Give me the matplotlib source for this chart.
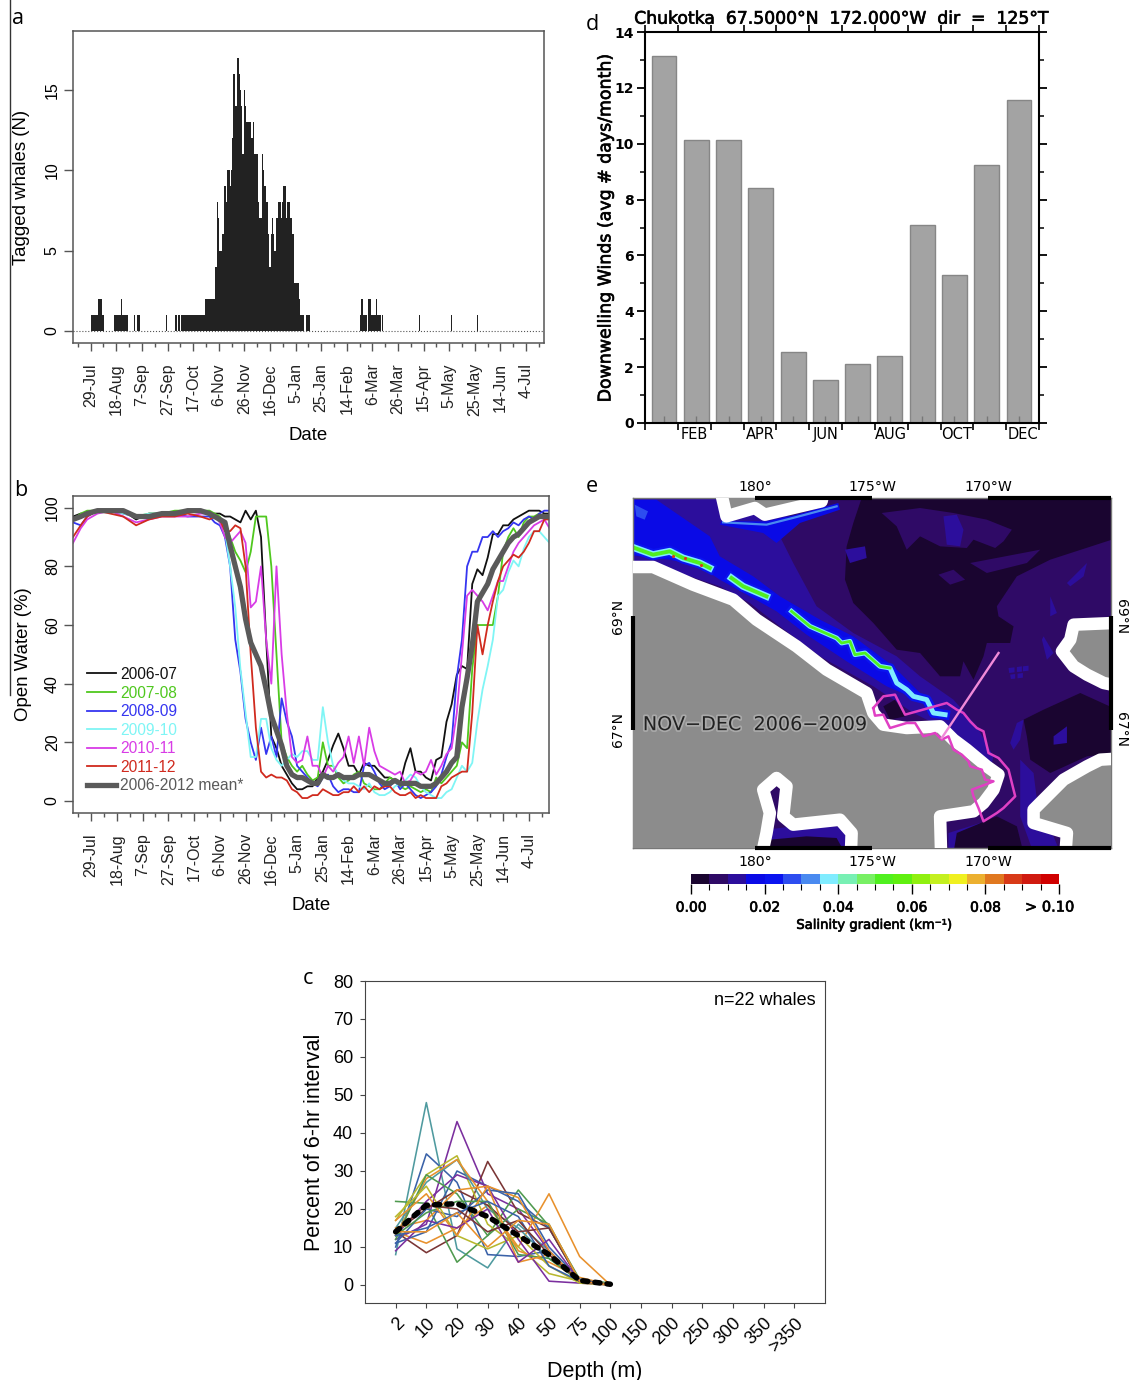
import numpy as np
import matplotlib
matplotlib.use('Agg')
import matplotlib.pyplot as plt
import matplotlib.patheffects as pe
from matplotlib.colors import ListedColormap
from matplotlib.lines import Line2D
from matplotlib.patches import Polygon

plt.rcParams['font.family'] = ['Liberation Sans', 'DejaVu Sans']

W, H = 1130, 1380

date_ticks = np.arange(0, 360, 20)
date_labels = ['29-Jul', '18-Aug', '7-Sep', '27-Sep', '17-Oct', '6-Nov', '26-Nov', '16-Dec', '5-Jan',
               '25-Jan', '14-Feb', '6-Mar', '26-Mar', '15-Apr', '5-May', '25-May', '14-Jun', '4-Jul']

# panel a, whales per day, starting at 29-Jul
whales = [0, 1, 1, 1, 1, 1, 2, 2, 2, 1, 1, 0, 0, 0, 0, 0, 0, 0, 0, 1, 1, 1, 1, 1, 2, 1, 1, 1, 1, 1,
          0, 0, 0, 0, 1, 0, 0, 1, 1, 0, 0, 0, 0, 0, 0, 0, 0, 0, 0, 0, 0, 0, 0, 0, 0, 0, 0, 0, 0, 1,
          0, 0, 0, 0, 0, 0, 1, 1, 0, 1, 0, 1, 1, 1, 1, 1, 1, 1, 1, 1, 1, 1, 1, 1, 1, 1, 1, 1, 1, 1,
          2, 2, 2, 2, 2, 2, 2, 2, 4, 8, 7, 5, 5, 6, 6, 9, 8, 10, 10, 9, 10, 12, 16, 14, 14, 17, 16, 15, 14, 11,
          15, 14, 13, 13, 13, 13, 12, 13, 11, 11, 11, 8, 7, 7, 11, 10, 9, 8, 8, 6, 4, 6, 7, 6, 5, 7, 7, 8, 8, 7,
          8, 9, 9, 7, 8, 8, 7, 7, 6, 3, 3, 3, 3, 2, 1, 1, 1, 0, 0, 1, 1, 1, 0, 0, 0, 0, 0, 0, 0, 0,
          0, 0, 0, 0, 0, 0, 0, 0, 0, 0, 0, 0, 0, 0, 0, 0, 0, 0, 0, 0, 0, 0, 0, 0, 0, 0, 0, 0, 0, 0,
          0, 1, 2, 1, 1, 1, 0, 2, 2, 1, 1, 1, 1, 2, 1, 1, 1, 0, 1, 0, 0, 0, 0, 0, 0, 0, 0, 0, 0, 0,
          0, 0, 0, 0, 0, 0, 0, 0, 0, 0, 0, 0, 0, 0, 0, 0, 0, 1, 0, 0, 0, 0, 0, 0, 0, 0, 0, 0, 0, 0,
          0, 0, 0, 0, 0, 0, 0, 0, 0, 0, 0, 0, 1, 0, 0, 0, 0, 0, 0, 0, 0, 0, 0, 0, 0, 0, 0, 0, 0, 0,
          0, 0, 1, 0]

# panel b, open water per cent
water_days = [-14, -8, -3, 5, 15, 25, 35, 45, 55, 65, 75, 85] + list(range(92, 357, 4))
water_0607 = [97, 98, 98, 99, 99, 99, 96, 98, 98, 98, 99, 99,
              98, 98, 98, 97, 97, 96, 95, 99, 96, 99, 90, 55, 22, 18, 12, 9, 6, 4, 4, 5, 5, 8, 10, 14, 19, 23, 18,
              12, 12, 9, 13, 12, 12, 10, 8, 8, 7, 6, 13, 18, 10, 10, 8, 7, 14, 15, 27, 33, 43, 46, 45, 74, 79, 77,
              83, 91, 91, 94, 94, 96, 97, 98, 99, 99, 99, 98, 98]
water_0708 = [96, 98, 99, 99, 99, 99, 97, 98, 98, 99, 99, 99,
              99, 98, 97, 94, 90, 85, 82, 78, 85, 97, 97, 97, 80, 50, 20, 15, 12, 10, 12, 9, 7, 8, 20, 12, 12, 8, 6,
              7, 9, 10, 6, 5, 4, 4, 6, 8, 7, 5, 4, 5, 4, 3, 4, 3, 8, 6, 8, 10, 12, 20, 18, 45, 60, 60,
              60, 60, 70, 85, 90, 93, 90, 95, 97, 97, 98, 96, 97]
water_0809 = [95, 94, 97, 99, 99, 98, 97, 97, 98, 98, 97, 97,
              97, 95, 94, 90, 80, 55, 44, 28, 20, 14, 25, 16, 22, 15, 35, 27, 22, 12, 10, 8, 6, 5, 8, 9, 5, 3, 4,
              4, 3, 3, 12, 13, 10, 6, 4, 5, 7, 4, 6, 4, 2, 1, 2, 3, 5, 9, 15, 20, 42, 55, 80, 85, 85, 90,
              90, 92, 90, 92, 93, 95, 94, 96, 97, 96, 98, 99, 99]
water_0910 = [96, 97, 98, 99, 99, 98, 97, 98, 98, 98, 99, 99,
              98, 97, 95, 92, 80, 66, 45, 30, 15, 15, 28, 28, 18, 14, 12, 14, 16, 15, 17, 17, 14, 14, 32, 20, 12, 9, 7,
              6, 6, 5, 4, 6, 3, 2, 2, 3, 5, 6, 7, 9, 8, 5, 3, 2, 1, 1, 3, 4, 8, 12, 10, 13, 27, 38,
              46, 55, 70, 72, 78, 82, 80, 86, 90, 92, 92, 90, 88]
water_1011 = [88, 93, 96, 98, 99, 97, 95, 96, 97, 97, 97, 98,
              98, 97, 95, 90, 88, 90, 92, 88, 66, 68, 80, 55, 40, 80, 50, 30, 15, 13, 14, 22, 12, 12, 8, 12, 10, 13, 15,
              22, 13, 22, 12, 25, 17, 12, 11, 10, 9, 10, 6, 7, 10, 9, 10, 14, 9, 12, 16, 18, 30, 50, 70, 72, 70, 68,
              65, 70, 75, 75, 80, 85, 88, 90, 92, 94, 95, 96, 93]
water_1112 = [90, 94, 97, 99, 98, 97, 94, 96, 97, 97, 98, 97,
              96, 97, 96, 92, 92, 94, 93, 80, 50, 25, 10, 8, 9, 8, 8, 7, 4, 3, 1, 1, 2, 2, 4, 3, 2, 2, 3,
              3, 5, 3, 5, 3, 5, 4, 5, 5, 3, 2, 2, 3, 1, 2, 1, 1, 1, 5, 6, 8, 9, 10, 10, 30, 60, 50,
              60, 68, 75, 80, 82, 84, 83, 85, 88, 92, 92, 96, 96]
water_mean = [96, 97, 98, 99, 99, 99, 97, 97, 98, 98, 99, 99,
              98, 97, 96, 95, 87, 80, 73, 62, 54, 50, 46, 38, 29, 24, 19, 12, 9, 8, 8, 7, 6, 6, 9, 8, 8, 9, 8,
              8, 8, 9, 9, 9, 8, 7, 6, 6, 7, 6, 6, 6, 6, 5, 5, 5, 6, 8, 10, 13, 15, 32, 42, 53, 68, 71,
              74, 79, 82, 85, 88, 90, 91, 93, 95, 96, 97, 97, 97]
water_labels = ['2006-07', '2007-08', '2008-09', '2009-10', '2010-11', '2011-12']
water_colors = ['#111111', '#4fc81e', '#3535f0', '#7ff5f5', '#d83ce6', '#d02a1e']

# panel c, percent of interval per depth bin, one list per whale
depth_labels = ['2', '10', '20', '30', '40', '50', '75', '100', '150', '200', '250', '300', '350', '>350']
whale_curves = [[8, 48, 9.5, 4.5, 16, 9, 1, 0], [12, 16, 43, 24, 20, 9, 1, 0], [14, 8.5, 13, 32.5, 19, 15, 1, 0],
                [22, 21.5, 6, 13, 25, 15.5, 1.5, 0.5], [14, 11, 15, 21, 10, 24, 7.5, 0], [10, 34.5, 27, 8, 7.5, 9, 1, 0],
                [17, 29, 34, 16, 10, 3, 1, 0], [11, 14, 30, 26, 22, 15, 1, 0], [13, 22, 29, 26, 12, 1, 0.5, 0],
                [15, 27, 33, 20, 15, 7, 1, 0], [13, 28, 33, 22, 9, 6, 2, 0], [14, 20, 25, 21, 14, 15, 1, 0],
                [12, 29, 24, 13, 20, 16, 1, 0.2], [15, 17, 25, 26, 23, 9, 1, 0], [11, 20, 18, 25, 24, 10, 1.5, 0],
                [18, 26, 13, 9.5, 13, 5, 0.5, 0], [13, 19, 22, 22, 8, 7, 1, 0], [17, 24, 13, 26, 6, 8, 1, 0],
                [9, 17, 15, 20, 6, 12, 1, 0], [13, 15, 19, 22, 18, 5, 1, 0], [14, 21, 20, 14, 17, 8, 1, 0],
                [14, 14, 19, 10, 17, 16, 1, 0]]
curve_colors = ['#4f9a9f', '#7b2f9e', '#7a3535', '#4f9a4f', '#e8912d', '#3a62a8', '#b8b82e', '#3a62a8', '#7b2f9e',
                '#4f9a9f', '#e8912d', '#7a3535', '#4f9a4f', '#e8912d', '#3a62a8', '#b8b82e', '#4f9a4f', '#e8912d',
                '#7b2f9e', '#3a62a8', '#7a3535', '#e8912d']
depth_mean = [14, 21, 21.4, 18, 13, 8, 1.2, 0.2]

# panel d
months = np.arange(1, 13)
wind_days = [13.15, 10.15, 10.15, 8.4, 2.55, 1.55, 2.1, 2.4, 7.1, 5.3, 9.25, 11.55]
month_labels = ['FEB', 'APR', 'JUN', 'AUG', 'OCT', 'DEC']

# panel e, colour scale and map outlines traced on a map grid (x 40-1472, y 55-1105)
grad_levels = np.arange(0, 0.1001, 0.005)
grad_colors = ['#1a0530', '#2f0a66', '#2c0e9c', '#0a0ae6', '#0a14f0', '#2d4df0', '#4a8af0', '#80ecff', '#78f0b4',
               '#78f064', '#50f020', '#60f010', '#90f010', '#c4f020', '#f0f020', '#ecb030', '#e07820', '#d83a18',
               '#d01a10', '#d00000']
land_main = [(-60, 262), (100, 262), (220, 315), (340, 360), (410, 420), (530, 500), (620, 570), (740, 640), (760, 700),
             (790, 735), (860, 745), (960, 740), (1000, 780), (1040, 810), (1100, 860), (1135, 885), (1120, 930),
             (1090, 970), (1060, 995), (960, 1010), (965, 1200), (690, 1200), (695, 1060), (660, 1020), (520, 1035),
             (490, 1010), (500, 920), (470, 895), (430, 930), (450, 1000), (440, 1060), (410, 1200), (-60, 1200)]
land_top = [(295, 0), (320, 110), (405, 85), (435, 105), (605, 65), (620, 0)]
land_right_a = [(1600, 425), (1360, 435), (1350, 480), (1325, 515), (1360, 560), (1400, 585), (1450, 610), (1600, 640)]
land_right_b = [(1600, 830), (1440, 840), (1400, 860), (1330, 900), (1280, 950), (1240, 990), (1240, 1030), (1340, 1060),
                (1330, 1200), (1600, 1200)]
map_dark = [[(730, 40), (1490, 40), (1490, 175), (1290, 240), (1190, 290), (1130, 380), (1135, 410), (1180, 440), (1170, 490),
             (1100, 490), (1090, 530), (1060, 600), (1030, 545), (1020, 590), (960, 590), (900, 520), (830, 510),
             (760, 430), (700, 370), (675, 300), (680, 200), (700, 130)],
            [(1210, 720), (1270, 690), (1380, 640), (1490, 690), (1490, 820), (1400, 830), (1290, 880), (1230, 840), (1220, 770)],
            [(1010, 1060), (1130, 1010), (1190, 1040), (1210, 1120), (1000, 1120)],
            [(450, 1080), (560, 1070), (650, 1075), (675, 1120), (440, 1120)],
            [(790, 680), (825, 660), (855, 710), (810, 720)]]
map_purple = [[(785, 100), (900, 85), (1000, 100), (1100, 120), (1175, 150), (1150, 185), (1125, 205), (1060, 180), (1040, 205),
               (960, 200), (900, 170), (860, 210), (830, 140)],
              [(1050, 250), (1260, 210), (1220, 250), (1100, 280)],
              [(955, 285), (1000, 270), (1035, 300), (990, 315)]]
map_indigo = [[(20, 40), (560, 40), (470, 150), (520, 250), (590, 380), (700, 460), (830, 530), (900, 590), (1000, 660), (1070, 740),
               (1120, 830), (1110, 870), (1060, 830), (980, 750), (880, 700), (760, 620), (600, 530), (480, 440), (390, 370),
               (300, 320), (150, 270), (20, 240)],
              [(1200, 840), (1240, 880), (1250, 960), (1230, 1010), (1300, 1070), (1320, 1120), (1240, 1120), (1200, 1010)],
              [(1270, 470), (1300, 520), (1280, 540), (1265, 480)],
              [(1340, 310), (1400, 250), (1390, 290), (1350, 320)],
              [(1290, 350), (1310, 400), (1290, 410)],
              [(440, 1050), (520, 1040), (680, 1040), (690, 1120), (430, 1120)],
              [(985, 1060), (1080, 1030), (1020, 1120), (985, 1120)]]
map_indigo_top = [[(970, 110), (1010, 105), (1030, 150), (1020, 200), (980, 195), (975, 150)],
                  [(675, 210), (735, 200), (740, 235), (690, 250)],
                  [(1170, 790), (1190, 730), (1210, 720), (1200, 780), (1180, 810)],
                  [(1300, 770), (1340, 740), (1340, 790), (1300, 795)],
                  [(1165, 565), (1183, 563), (1183, 578), (1167, 580)],
                  [(1190, 562), (1205, 560), (1205, 576), (1190, 577)],
                  [(1208, 560), (1225, 558), (1225, 573), (1208, 575)],
                  [(1170, 585), (1185, 583), (1185, 597), (1172, 598)],
                  [(1192, 582), (1208, 580), (1208, 594), (1192, 596)]]
map_blue = [[(20, 60), (110, 60), (270, 170), (300, 230), (400, 290), (480, 350), (600, 420), (700, 470), (820, 560), (900, 640),
             (1000, 720), (960, 690), (800, 620), (680, 545), (560, 465), (470, 395), (390, 350), (300, 300), (240, 260),
             (150, 240), (20, 225)],
            [(305, 125), (440, 125), (530, 105), (655, 70), (660, 90), (540, 130), (470, 190), (430, 160), (300, 135)]]
map_light = [[(45, 75), (85, 95), (75, 120), (50, 110)]]
ridge_top = [(310, 128), (440, 135), (530, 112), (650, 80)]
ridge_a = [(45, 205), (100, 225), (150, 215), (190, 235), (240, 250), (270, 265)]
ridge_b = [(335, 295), (370, 320), (440, 350)]
ridge_c = [(515, 395), (570, 440), (650, 475), (665, 490), (690, 485), (705, 525), (735, 520), (780, 560), (810, 565), (830, 610),
           (860, 630), (880, 650), (920, 660), (940, 700), (975, 705)]
ridge_c_core = [(515, 395), (570, 440), (650, 475), (665, 490), (690, 485), (705, 525), (735, 520), (780, 560), (810, 565)]
hot_x = [160, 195, 245]
hot_y = [228, 235, 255]
box_outline = [(760, 685), (790, 650), (825, 645), (855, 705), (980, 670), (1010, 690), (1030, 700), (1050, 725), (1070, 745), (1090, 755),
               (1105, 820), (1135, 835), (1165, 870), (1185, 950), (1150, 985), (1130, 1000), (1090, 1025), (1075, 985), (1060, 950),
               (1055, 930), (1095, 915), (1120, 905), (1095, 900), (1085, 870), (1050, 860), (1045, 845), (1025, 825), (1000, 810),
               (985, 770), (965, 780), (945, 760), (910, 770), (885, 730), (860, 730), (810, 745), (790, 705), (765, 708), (760, 685)]
section_line = [(965, 775), (1135, 520)]
map_lon_ticks = [405, 757, 1105]
map_lon_labels = ['180°', '175°W', '170°W']
map_lat_ticks = [410, 750]
map_lat_labels = ['69°N', '67°N']

heavy = [pe.withStroke(linewidth=0.5, foreground='#111111')]


def px_axes(left, top, right, bottom):
    return fig.add_axes([left / W, 1 - bottom / H, (right - left) / W, (bottom - top) / H])


def style_date_axes(ax, xlim):
    ax.set_xlim(*xlim)
    ax.set_xticks(date_ticks)
    ax.set_xticklabels(date_labels, rotation=90, fontsize=11.5, color='#222222')
    ax.set_xticks(np.arange(-10, 355, 10), minor=True)
    ax.tick_params(axis='x', which='major', length=5.5, width=1, color='#555555', pad=9)
    ax.tick_params(axis='x', which='minor', length=3, width=1, color='#555555')
    ax.tick_params(axis='y', length=6.5, width=1, color='#555555', labelsize=11.5, labelrotation=90, pad=3)
    for label in ax.get_yticklabels():
        label.set_va('center')
    for s in ax.spines.values():
        s.set_color('#555555')
        s.set_linewidth(1.1)


fig = plt.figure(figsize=(W / 100, H / 100), dpi=100)

# a
ax = px_axes(73, 31, 544, 343)
ax.bar(np.arange(len(whales)), whales, width=1.05, color='#222222', linewidth=0)
ax.axhline(0, color='#555555', lw=0.8, ls=':')
ax.set_ylim(-0.75, 18.66)
ax.set_yticks([0, 5, 10, 15])
style_date_axes(ax, (-13.8, 354))
ax.set_xlabel('Date', fontsize=13.4, labelpad=8)
ax.set_ylabel('Tagged whales (N)', fontsize=13.4, labelpad=11)

# b
ax = px_axes(73, 496, 549, 813)
all_water = [water_0607, water_0708, water_0809, water_0910, water_1011, water_1112]
for vals, lab, col in zip(all_water, water_labels, water_colors):
    ax.plot(water_days, vals, color=col, lw=1.3, label=lab)
ax.plot(water_days, water_mean, color='#5a5a5a', lw=3.8, label='2006-2012 mean*')
ax.set_ylim(-4.1, 104)
ax.set_yticks(np.arange(0, 101, 20))
style_date_axes(ax, (-14, 355.6))
ax.set_xlabel('Date', fontsize=13.4, labelpad=8)
ax.set_ylabel('Open Water (%)', fontsize=13.4, labelpad=9)
ax.legend(loc='lower left', bbox_to_anchor=(0.0225, 0.052), frameon=False, fontsize=11.2, labelcolor='linecolor',
          handlelength=1.9, handletextpad=0.25, labelspacing=0.23, borderpad=0.2, borderaxespad=0)

# c
ax = px_axes(365, 981, 825, 1303)
for vals, col in zip(whale_curves, curve_colors):
    ax.plot(range(len(vals)), vals, color=col, lw=1.15)
ax.plot(range(len(depth_mean)), depth_mean, color='black', lw=4.0, ls=(0, (0.9, 1.3)), dash_capstyle='round')
ax.set_xlim(-1, 14)
ax.set_ylim(-4.74, 80)
ax.set_yticks(np.arange(0, 81, 10))
ax.set_xticks(range(len(depth_labels)))
ax.set_xticklabels(depth_labels, rotation=45, fontsize=13, ha='right', rotation_mode='anchor')
ax.tick_params(axis='x', length=3.5, color='#444444', pad=5)
ax.tick_params(axis='y', length=3.5, color='#444444', labelsize=13, pad=5)
ax.set_xlabel('Depth (m)', fontsize=15.5, labelpad=4)
ax.set_ylabel('Percent of 6-hr interval', fontsize=15.5, labelpad=6)
ax.text(0.98, 0.94, 'n=22 whales', transform=ax.transAxes, ha='right', va='center', fontsize=13)
for s in ax.spines.values():
    s.set_color('#444444')

# d
ax = px_axes(645, 32, 1039, 423)
edges = np.linspace(0.41, 12.62, 13)
ax.bar(months, wind_days, width=0.77, color='#a3a3a3', edgecolor='#868686', linewidth=1)
ax.set_xlim(edges[0], edges[-1])
ax.set_ylim(0, 14)
for s in ax.spines.values():
    s.set_linewidth(1.5)
ax.set_yticks(np.arange(0, 15, 2))
ax.set_yticks(np.arange(1, 14, 2), minor=True)
ax.tick_params(axis='y', which='major', length=6, width=1.3, left=True, right=True, pad=2)
ax.tick_params(axis='y', which='minor', length=3.5, width=1.1, left=True, right=True)
ax.set_xticks(edges)
ax.set_xticks(months, minor=True)
ax.set_xticklabels([])
ax.tick_params(axis='x', which='major', length=5, width=1.2, top=True, bottom=True)
ax.tick_params(axis='x', which='minor', length=5, width=1, direction='in', color='#777777', bottom=True, top=False)
for label in ax.get_yticklabels():
    label.set_family('DejaVu Sans')
    label.set_fontsize(10)
    label.set_fontweight('bold')
for i, lab in enumerate(month_labels):
    ax.text((edges[2 * i + 1] + edges[2 * i + 2]) / 2, -0.13, lab, ha='center', va='top', family='DejaVu Sans', fontsize=10.5)
ax.set_ylabel('Downwelling Winds (avg # days/month)', family='DejaVu Sans', fontsize=12.5, labelpad=0, path_effects=heavy)
ax.set_title('Chukotka  67.5000°N  172.000°W  dir  =  125°T', family='DejaVu Sans', fontsize=12.4, pad=6, path_effects=heavy)

# e
ax = px_axes(633, 498, 1111, 848)
ax.set_xlim(40, 1472)
ax.set_ylim(1105, 55)
ax.set_facecolor(grad_colors[1])
for polys, lev, z in [(map_indigo, 2, 1), (map_dark, 0, 1.1), (map_purple, 1, 1.2), (map_indigo_top, 2, 1.3),
                      (map_blue, 3, 1.4), (map_light, 5, 1.5)]:
    for poly in polys:
        ax.add_patch(Polygon(poly, closed=True, facecolor=grad_colors[lev], edgecolor='none', zorder=z))
for ridge, widths in [(ridge_top, [(1.6, 6)]), (ridge_a, [(8, 4), (5, 7), (2.8, 10)]),
                      (ridge_b, [(8, 4), (5, 7), (2.8, 10)]), (ridge_c, [(7, 4), (3.5, 7)]), (ridge_c_core, [(2, 10)])]:
    xs, ys = zip(*ridge)
    for lw, lev in widths:
        ax.plot(xs, ys, color=grad_colors[lev], lw=lw, zorder=2, solid_joinstyle='round')
ax.scatter(hot_x, hot_y, s=5, color=grad_colors[17], linewidths=0, zorder=2.5)
for land in [land_main, land_top, land_right_a, land_right_b]:
    ax.add_patch(Polygon(land, closed=True, facecolor='#8c8c8c', edgecolor='white', linewidth=9, joinstyle='round', zorder=3))
xs, ys = zip(*box_outline)
ax.plot(xs, ys, color='#e040c4', lw=1.8, zorder=4)
xs, ys = zip(*section_line)
ax.plot(xs, ys, color='#f08ad8', lw=1.7, zorder=4)
ax.text(405, 735, 'NOV−DEC  2006−2009', family='DejaVu Sans', fontsize=13.8, ha='center', va='center', color='#222222', zorder=5,
        path_effects=[pe.withStroke(linewidth=2.5, foreground='#aaaaaa')])
ax.set_xticks([])
ax.set_yticks([])
for s in ax.spines.values():
    s.set_color('#777777')
    s.set_linewidth(1)
for y in [55, 1105]:
    ax.plot([405, 757], [y, y], color='black', lw=3, clip_on=False, zorder=6, solid_capstyle='butt')
    ax.plot([1105, 1472], [y, y], color='black', lw=3, clip_on=False, zorder=6, solid_capstyle='butt')
for x in [40, 1472]:
    ax.plot([x, x], map_lat_ticks, color='black', lw=3, clip_on=False, zorder=6, solid_capstyle='butt')
for x, lab in zip(map_lon_ticks, map_lon_labels):
    ax.text(x, 44, lab, family='DejaVu Sans', fontsize=10.2, ha='center', va='bottom')
    ax.text(x, 1125, lab, family='DejaVu Sans', fontsize=10.2, ha='center', va='top')
for y, lab in zip(map_lat_ticks, map_lat_labels):
    ax.text(15, y, lab, family='DejaVu Sans', fontsize=10, ha='right', va='center', rotation=90)
    ax.text(1480, y, lab, family='DejaVu Sans', fontsize=10, ha='left', va='center', rotation=-90)

# colour bar
cax = px_axes(691, 874, 1059, 884)
cax.pcolormesh(grad_levels, [0, 1], np.arange(20).reshape(1, -1), cmap=ListedColormap(grad_colors), vmin=-0.5, vmax=19.5)
cax.set_yticks([])
cax.set_xticks([0, 0.02, 0.04, 0.06, 0.08, 0.1])
cax.set_xticklabels(['0.00', '0.02', '0.04', '0.06', '0.08', ''], family='DejaVu Sans', fontsize=10, path_effects=heavy)
cax.text(0.0975, -1.55, '> 0.10', family='DejaVu Sans', fontsize=10.5, ha='center', va='top', path_effects=heavy)
cax.set_xticks(grad_levels, minor=True)
cax.tick_params(axis='x', which='major', length=7, width=1, pad=5)
cax.tick_params(axis='x', which='minor', length=4, width=0.8)
for s in cax.spines.values():
    s.set_visible(False)
cax.set_xlabel('Salinity gradient (km⁻¹)', family='DejaVu Sans', fontsize=9.5, labelpad=3, path_effects=heavy)

# panel letters and the stray rule at the left edge
for txt, x, y in [('a', 12, 18), ('b', 14, 491), ('c', 303, 979), ('d', 586, 24), ('e', 586, 486)]:
    fig.text(x / W, 1 - y / H, txt, family='Open Sans', fontsize=15.5, va='center', ha='left')
fig.add_artist(Line2D([10 / W, 10 / W], [1, 1 - 695 / H], color='#333333', lw=1))

fig.savefig('out.png', dpi=100)
